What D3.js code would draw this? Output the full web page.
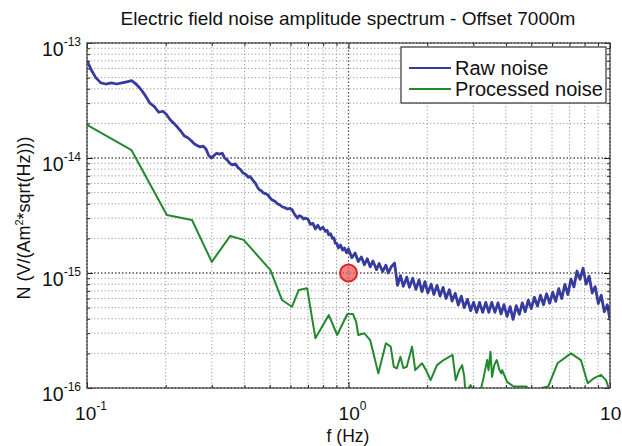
<!DOCTYPE html>
<html><head><meta charset="utf-8">
<script src="https://cdn.jsdelivr.net/npm/d3@7"></script>
<style>
body{margin:0;background:#fff;}
svg{display:block;font-family:"Liberation Sans",Arial,Helvetica,sans-serif;}
</style>
</head><body>
<svg id="chart" width="622" height="446"></svg>
<script>
// ---------- data ----------
const chartTitle = "Electric field noise amplitude spectrum - Offset 7000m";
const xTitle = "f (Hz)";
const seriesNames = ["Raw noise", "Processed noise"];
const xTickExps = [-1, 0, 1];
const yTickExps = [-16, -15, -14, -13];
const markerPoint = [1, 1e-15];

const rawFreq = [
 0.100,0.104,0.108,0.113,0.118,0.124,0.130,0.136,0.142,0.148,0.154,0.160,0.167,0.174,0.181,0.188,0.195,0.201,0.208,0.215,
 0.222,0.229,0.236,0.243,0.250,0.257,0.264,0.271,0.278,0.285,0.292,0.299,0.306,0.313,
 0.321,0.329,0.336,0.344,0.352,0.359,0.369,0.379,0.387,0.396,0.405,0.414,0.420,0.427,0.433,0.440,0.448,0.456,0.464,0.472,
 0.481,0.491,0.501,0.511,0.523,0.535,0.547,0.559,0.571,0.584,0.597,0.610,0.617,0.624,0.631,0.638,0.649,0.660,0.672,0.684,
 0.699,0.715,0.731,0.747,0.763,0.780,0.798,0.817,0.828,0.840,0.854,0.868,0.879,0.890,0.903,0.915,0.932,0.950,0.966,0.983,
 1.00,1.03,1.06,1.09,1.12,1.15,1.18,1.21,1.24,1.28,1.31,1.35,1.39,1.42,1.46,1.50,1.54,1.58,1.62,1.67,
 1.71,1.76,1.81,1.86,1.91,1.96,2.01,2.07,2.12,2.18,2.24,2.30,2.36,2.43,2.49,2.56,2.63,2.70,2.77,2.85,
 2.93,3.01,3.09,3.17,3.26,3.35,3.44,3.53,3.63,3.73,3.83,3.93,4.04,4.15,4.26,4.38,4.50,4.62,4.74,4.87,
 5.00,5.14,5.28,5.42,5.57,5.72,5.88,6.04,6.20,6.37,6.54,6.72,6.90,7.09,7.28,7.48,7.68,7.89,8.10,8.32,
 8.55,8.78,9.02,9.26,9.51,9.77,10.0
];
const rawN = [
 7.0e-14,5.8e-14,5.0e-14,4.5e-14,4.4e-14,4.5e-14,4.4e-14,4.5e-14,4.6e-14,4.7e-14,4.4e-14,4.0e-14,3.5e-14,3.0e-14,2.8e-14,2.5e-14,2.55e-14,2.4e-14,2.15e-14,2.0e-14,
 1.85e-14,1.7e-14,1.55e-14,1.5e-14,1.42e-14,1.33e-14,1.28e-14,1.25e-14,1.27e-14,1.2e-14,1.05e-14,1.0e-14,1.05e-14,1.1e-14,
 1.08e-14,1.10e-14,1.0e-14,9.6e-15,9.0e-15,8.7e-15,8.9e-15,8.2e-15,7.9e-15,7.4e-15,7.2e-15,6.8e-15,6.9e-15,6.6e-15,6.3e-15,6.07e-15,5.6e-15,5.3e-15,5.2e-15,4.97e-15,
 4.9e-15,4.8e-15,4.5e-15,4.32e-15,4.2e-15,4.0e-15,3.9e-15,3.75e-15,3.7e-15,3.6e-15,3.65e-15,3.53e-15,3.35e-15,3.2e-15,3.1e-15,3.0e-15,3.15e-15,3.1e-15,2.95e-15,3.0e-15,
 2.95e-15,2.65e-15,2.7e-15,2.42e-15,2.6e-15,2.4e-15,2.5e-15,2.3e-15,2.35e-15,2.15e-15,2.2e-15,2.0e-15,2.02e-15,1.82e-15,1.8e-15,1.65e-15,1.75e-15,1.58e-15,1.65e-15,1.5e-15,
 1.62e-15,1.36e-15,1.49e-15,1.26e-15,1.38e-15,1.18e-15,1.33e-15,1.13e-15,1.27e-15,1.07e-15,1.21e-15,1.03e-15,1.17e-15,1.00e-15,1.14e-15,1.22e-15,0.78e-15,0.95e-15,0.765e-15,0.92e-15,
 0.75e-15,0.90e-15,0.72e-15,0.87e-15,0.69e-15,0.84e-15,0.67e-15,0.80e-15,0.65e-15,0.78e-15,0.63e-15,0.75e-15,0.60e-15,0.715e-15,0.57e-15,0.665e-15,0.525e-15,0.63e-15,0.50e-15,0.59e-15,
 0.47e-15,0.556e-15,0.455e-15,0.556e-15,0.455e-15,0.556e-15,0.455e-15,0.556e-15,0.455e-15,0.55e-15,0.44e-15,0.53e-15,0.42e-15,0.51e-15,0.395e-15,0.52e-15,0.437e-15,0.55e-15,0.46e-15,0.58e-15,
 0.49e-15,0.615e-15,0.515e-15,0.64e-15,0.53e-15,0.66e-15,0.546e-15,0.68e-15,0.567e-15,0.73e-15,0.60e-15,0.795e-15,0.65e-15,0.885e-15,0.757e-15,1.04e-15,0.88e-15,1.10e-15,0.80e-15,0.94e-15,
 0.67e-15,0.76e-15,0.543e-15,0.64e-15,0.46e-15,0.53e-15,0.39e-15
];

const procFreq = [
 0.100,0.148,0.202,0.252,0.300,0.353,0.397,0.503,0.557,0.608,0.645,0.695,0.747,0.841,0.905,0.990,
 1.04,1.07,1.09,1.15,1.21,1.25,1.30,1.39,1.45,1.49,1.53,1.58,1.62,1.67,1.75,1.80,1.91,1.98,2.06,2.18,
 2.31,2.50,2.57,2.65,2.72,2.77,2.80,2.93,3.10,3.20,3.29,3.39,3.43,3.49,3.54,3.61,3.69,3.78,3.84,3.87,
 4.04,4.28,4.53,4.80,4.99,5.27,5.48,5.80,6.30,7.09,7.74,8.22,8.69,9.24,9.65,10.0
];
const procN = [
 1.94e-14,1.17e-14,3.19e-15,2.89e-15,1.25e-15,2.10e-15,1.94e-15,1.06e-15,5.82e-16,5.09e-16,7.11e-16,7.36e-16,2.71e-16,4.31e-16,2.89e-16,4.40e-16,
 4.40e-16,3.75e-16,2.89e-16,2.99e-16,2.61e-16,1.94e-16,1.34e-16,2.45e-16,2.29e-16,1.53e-16,1.48e-16,1.87e-16,1.49e-16,1.53e-16,2.29e-16,1.43e-16,1.64e-16,1.43e-16,1.17e-16,1.58e-16,
 1.75e-16,1.94e-16,1.17e-16,1.43e-16,1.58e-16,1.27e-16,0.905e-16,1.06e-16,0.80e-16,0.95e-16,1.25e-16,1.75e-16,1.43e-16,2.07e-16,1.25e-16,1.58e-16,1.75e-16,1.43e-16,1.34e-16,1.43e-16,
 1.13e-16,1.03e-16,1.03e-16,1.03e-16,0.84e-16,0.84e-16,1.0e-16,1.03e-16,1.64e-16,2.0e-16,1.75e-16,1.1e-16,1.22e-16,1.30e-16,1.17e-16,0.93e-16
];

// ---------- layout ----------
const svg = d3.select("#chart");
const L = 87, R = 610, T = 43, B = 388;
const x = d3.scaleLog().domain([0.1, 10]).range([L, R]);
const y = d3.scaleLog().domain([1e-16, 1e-13]).range([B, T]);

const xMajor = xTickExps.map(e => Math.pow(10, e));
const yMajor = yTickExps.map(e => Math.pow(10, e));
const xMinor = [], yMinor = [];
xTickExps.slice(0, -1).forEach(e => { for (let k = 2; k <= 9; k++) xMinor.push(k * Math.pow(10, e)); });
yTickExps.slice(0, -1).forEach(e => { for (let k = 2; k <= 9; k++) yMinor.push(k * Math.pow(10, e)); });

// grid
const grid = svg.append("g");
grid.selectAll(".gxm").data(xMinor).enter().append("line")
  .attr("x1", d => x(d)).attr("x2", d => x(d)).attr("y1", T).attr("y2", B)
  .attr("stroke", "#999").attr("stroke-width", 1).attr("stroke-dasharray", "1.2,2.3");
grid.selectAll(".gym").data(yMinor).enter().append("line")
  .attr("y1", d => y(d)).attr("y2", d => y(d)).attr("x1", L).attr("x2", R)
  .attr("stroke", "#999").attr("stroke-width", 1).attr("stroke-dasharray", "1.2,2.3");
grid.selectAll(".gxM").data(xMajor).enter().append("line")
  .attr("x1", d => x(d)).attr("x2", d => x(d)).attr("y1", T).attr("y2", B)
  .attr("stroke", "#555").attr("stroke-width", 1.3).attr("stroke-dasharray", "1.5,2");
grid.selectAll(".gyM").data(yMajor).enter().append("line")
  .attr("y1", d => y(d)).attr("y2", d => y(d)).attr("x1", L).attr("x2", R)
  .attr("stroke", "#555").attr("stroke-width", 1.3).attr("stroke-dasharray", "1.5,2");

// clip
svg.append("clipPath").attr("id", "clip").append("rect")
  .attr("x", L).attr("y", T).attr("width", R - L).attr("height", B - T);

const line = d3.line().x(d => x(d[0])).y(d => y(d[1]));
const rawData = rawFreq.map((f, i) => [f, rawN[i]]);
const procData = procFreq.map((f, i) => [f, procN[i]]);
const colors = ["#363c9e", "#23892f"];

const plot = svg.append("g").attr("clip-path", "url(#clip)");
plot.append("path").datum(procData).attr("d", line)
  .attr("fill", "none").attr("stroke", colors[1]).attr("stroke-width", 2).attr("stroke-linejoin", "round");
plot.append("path").datum(rawData).attr("d", line)
  .attr("fill", "none").attr("stroke", colors[0]).attr("stroke-width", 2.8).attr("stroke-linejoin", "round");

// red marker
svg.append("circle").attr("cx", x(markerPoint[0])).attr("cy", y(markerPoint[1])).attr("r", 8.5)
  .attr("fill", "rgba(235,90,90,0.75)").attr("stroke", "#e02828").attr("stroke-width", 2);

// axes ticks (inward)
const noLab = () => "";
function styleAxis(g) { g.select(".domain").remove(); g.selectAll("line").attr("stroke", "#222"); }
svg.append("g").attr("transform", `translate(0,${B})`).call(d3.axisBottom(x).tickValues(xMajor).tickSize(-6).tickFormat(noLab)).call(styleAxis);
svg.append("g").attr("transform", `translate(0,${B})`).call(d3.axisBottom(x).tickValues(xMinor).tickSize(-3).tickFormat(noLab)).call(styleAxis);
svg.append("g").attr("transform", `translate(0,${T})`).call(d3.axisTop(x).tickValues(xMajor).tickSize(-6).tickFormat(noLab)).call(styleAxis);
svg.append("g").attr("transform", `translate(0,${T})`).call(d3.axisTop(x).tickValues(xMinor).tickSize(-3).tickFormat(noLab)).call(styleAxis);
svg.append("g").attr("transform", `translate(${L},0)`).call(d3.axisLeft(y).tickValues(yMajor).tickSize(-6).tickFormat(noLab)).call(styleAxis);
svg.append("g").attr("transform", `translate(${L},0)`).call(d3.axisLeft(y).tickValues(yMinor).tickSize(-3).tickFormat(noLab)).call(styleAxis);
svg.append("g").attr("transform", `translate(${R},0)`).call(d3.axisRight(y).tickValues(yMajor).tickSize(-6).tickFormat(noLab)).call(styleAxis);
svg.append("g").attr("transform", `translate(${R},0)`).call(d3.axisRight(y).tickValues(yMinor).tickSize(-3).tickFormat(noLab)).call(styleAxis);

// frame
svg.append("rect").attr("x", L).attr("y", T).attr("width", R - L).attr("height", B - T)
  .attr("fill", "none").attr("stroke", "#444").attr("stroke-width", 1.2);

// tick labels
xTickExps.forEach(e => {
  const t = svg.append("text").attr("x", x(Math.pow(10, e)) + 4).attr("y", 420)
    .attr("text-anchor", "middle").attr("font-size", 19).attr("fill", "#111");
  t.append("tspan").text("10");
  t.append("tspan").attr("dy", -10).attr("font-size", 12).text(String(e));
});
yTickExps.forEach(e => {
  const t = svg.append("text").attr("x", 81).attr("y", y(Math.pow(10, e)) + 13)
    .attr("text-anchor", "end").attr("font-size", 19.5).attr("fill", "#111");
  t.append("tspan").text("10");
  t.append("tspan").attr("dy", -10).attr("font-size", 12).text(String(e));
});

// titles
svg.append("text").attr("x", 348).attr("y", 25).attr("text-anchor", "middle")
  .attr("font-size", 19).attr("fill", "#111").text(chartTitle);
svg.append("text").attr("x", 348).attr("y", 442).attr("text-anchor", "middle")
  .attr("font-size", 17.5).attr("fill", "#111").text(xTitle);
const yt = svg.append("text").attr("transform", "translate(30,218) rotate(-90)")
  .attr("text-anchor", "middle").attr("font-size", 18).attr("fill", "#111");
yt.append("tspan").text("N (V/(Am");
yt.append("tspan").attr("dy", -7).attr("font-size", 11).text("2");
yt.append("tspan").attr("dy", 7).text("*sqrt(Hz)))");

// legend
const lg = svg.append("g");
lg.append("rect").attr("x", 401).attr("y", 47).attr("width", 205).attr("height", 56)
  .attr("fill", "#fff").attr("stroke", "#333").attr("stroke-width", 1.2);
seriesNames.forEach((n, i) => {
  const yy = 68 + i * 21;
  lg.append("line").attr("x1", 409).attr("x2", 451).attr("y1", yy).attr("y2", yy)
    .attr("stroke", colors[i]).attr("stroke-width", 2);
  lg.append("text").attr("x", 455).attr("y", yy + 7).attr("font-size", 20).attr("fill", "#111").text(n);
});
</script>
</body></html>
